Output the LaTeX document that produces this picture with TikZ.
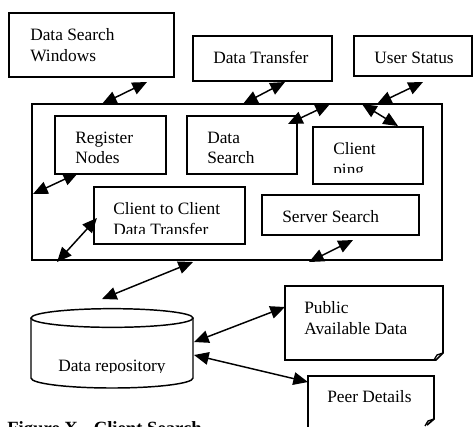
\documentclass[tikz,border=0pt]{standalone}
\usepackage{fontspec}
\setmainfont{Liberation Serif}
\usetikzlibrary{arrows.meta,fit}
\begin{document}
\begin{tikzpicture}[x=0.75pt,y=-0.75pt,
  box/.style={draw, line width=1.4pt, inner sep=0pt},
  frame/.style={inner sep=0pt},
  txt/.style={anchor=base west, inner sep=0pt, font=\fontsize{13}{15.6}\selectfont},
  captxt/.style={anchor=base west, inner sep=0pt, font=\fontsize{14}{16}\selectfont\bfseries},
  dbl/.style={line width=1.1pt, {Triangle[length=11pt,width=9.5pt]}-{Triangle[length=11pt,width=9.5pt]}},
  doc/.style={line width=1.3pt, line join=miter},
  cyl/.style={line width=1.1pt}
]
\clip (0,0) rectangle (474,426);
\fill[white] (0,0) rectangle (474,426);

% top boxes
\node[box, fit={(9,13) (174,77)}] (dsw) {};
\node[txt] (dswt1) at (30,40) {Data Search};
\node[txt] (dswt2) at (30,61) {Windows};

\node[box, fit={(193,36) (332,81)}] (dt) {};
\node[txt] (dtt) at (213,63) {Data Transfer};

\node[box, fit={(354,36) (472,76)}] (us) {};
\node[txt] (ust) at (374,63) {User Status};

% big container
\node[box, fit={(32,104) (442,260)}] (big) {};

\node[box, fit={(55,116) (166,174)}] (rn) {};
\node[txt] (rnt1) at (75,143) {Register};
\node[txt] (rnt2) at (75,163) {Nodes};

\node[box, fit={(187,116) (297,174)}] (ds) {};
\node[txt] (dst1) at (207,143) {Data};
\node[txt] (dst2) at (207,163) {Search};

\node[box, fit={(313,127) (423,184)}] (cp) {};
\begin{scope}
  \clip (313,127) rectangle (423,172);
  \node[txt] (cpt1) at (333,154) {Client};
  \node[txt] (cpt2) at (333,175) {ping};
\end{scope}

\node[box, fit={(94,187) (245,244)}] (ctc) {};
\begin{scope}
  \clip (94,187) rectangle (245,233);
  \node[txt] (ctct1) at (113,214) {Client to Client};
  \node[txt] (ctct2) at (113,235) {Data Transfer};
\end{scope}

\node[box, fit={(262,195) (419,235)}] (ss) {};
\node[txt] (sst) at (282,222) {Server Search};

% cylinder
\node[frame, fit={(31,309) (193,388)}] (repo) {};
\draw[cyl] (112,318) ellipse [x radius=60.75pt, y radius=7pt];
\draw[cyl] (31,318) -- (31,378) arc[start angle=180, end angle=360, x radius=60.75pt, y radius=7.5pt] -- (193,318);
\begin{scope}
  \clip (31,330) rectangle (193,372.5);
  \node[txt] (repot) at (58,371) {Data repository};
\end{scope}

% documents
\node[frame, fit={(285,286) (443,360)}] (pad) {};
\draw[doc] (285,286) -- (443,286) -- (443,353) -- (436,360) -- (285,360) -- cycle;
\draw[line width=1pt] (443,353) -- (437,355) -- (434,360);
\node[txt] (padt1) at (304,313) {Public};
\node[txt] (padt2) at (304,334) {Available Data};

\node[frame, fit={(308,376) (434,425)}] (pd) {};
\draw[doc] (308,440) -- (308,376) -- (434,376) -- (434,419) -- (427,425);
\draw[line width=1pt] (434,419) -- (428,421) -- (425,426);
\node[txt] (pdt) at (327,402) {Peer Details};

% caption
\node[captxt] (capt) at (7,434) {Figure X.\hspace{0.35em} Client Search};

% arrow end points
\coordinate (s1) at (102,104); \coordinate (e1) at (147,82);
\coordinate (s2) at (243,104); \coordinate (e2) at (285,82);
\coordinate (s3) at (377,104); \coordinate (e3) at (423,82);
\coordinate (s4) at (288,124); \coordinate (e4) at (330,104);
\coordinate (s5) at (362,104); \coordinate (e5) at (398,126);
\coordinate (s6) at (33,194);  \coordinate (e6) at (78,173);
\coordinate (s7) at (57,262);  \coordinate (e7) at (97,218);
\coordinate (s8) at (309,262); \coordinate (e8) at (353,240);
\coordinate (s9) at (102,299); \coordinate (e9) at (193,262);
\coordinate (s10) at (194,342); \coordinate (e10) at (285,307);
\coordinate (s11) at (194,355); \coordinate (e11) at (308,382);

\foreach \i in {1,...,11} {
  \draw[dbl] (s\i) -- (e\i);
}
\end{tikzpicture}
\end{document}
